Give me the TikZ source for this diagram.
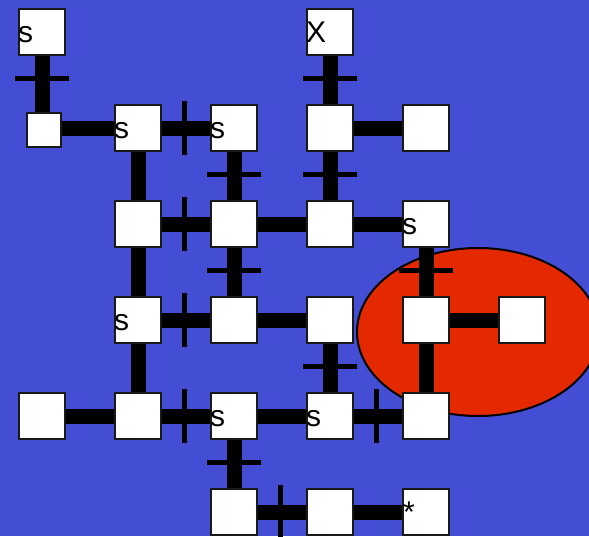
\documentclass[tikz,border=0pt]{standalone}
\usepackage{fontspec}
\setmainfont{Liberation Sans}
\usetikzlibrary{calc}
\pgfdeclarelayer{back}
\pgfdeclarelayer{bars}
\pgfsetlayers{back,bars,main}
\definecolor{bgblue}{RGB}{67,78,213}
\definecolor{blobred}{RGB}{228,40,0}
\tikzset{
  box/.style={draw=black!90, line width=2pt, fill=white, minimum size=46pt, inner sep=0pt, outer sep=0pt},
  smallbox/.style={box, minimum size=34pt},
  bar/.style={line width=15pt, black},
  xbar/.style={line width=5pt, black},
  lbl/.style={anchor=base west, inner sep=0pt, outer sep=0pt, font=\fontsize{30}{36}\selectfont}
}
\newcommand{\Hc}[2]{\draw[bar] (#1.center) -- (#2.center);}
\newcommand{\HcX}[2]{\draw[bar] (#1.center) -- (#2.center);
  \draw[xbar] ($(#1.center)!0.5!(#2.center)+(-2,-27)$) -- ++(0,54);}
\newcommand{\VcX}[2]{\draw[bar] (#1.center) -- (#2.center);
  \draw[xbar] ($(#1.center)!0.5!(#2.center)+(-27,-2)$) -- ++(54,0);}
\begin{document}
\begin{tikzpicture}[x=1pt, y=-1pt]
\useasboundingbox (0,0) rectangle (589,536);
\clip (0,0) rectangle (589,536);
\begin{pgfonlayer}{back}
  \fill[bgblue] (0,0) rectangle (589,536);
  \draw[blobred, fill=blobred] (478,332) ellipse [x radius=121, y radius=84];
  \draw[black, line width=2pt] (478,332) ellipse [x radius=121, y radius=84];
\end{pgfonlayer}
% row 0
\node[box] (n00) at (42,32) {};
\node[box] (n30) at (330,32) {};
% row 1
\node[smallbox] (n01) at (44,130) {};
\node[box] (n11) at (138,128) {};
\node[box] (n21) at (234,128) {};
\node[box] (n31) at (330,128) {};
\node[box] (n41) at (426,128) {};
% row 2
\node[box] (n12) at (138,224) {};
\node[box] (n22) at (234,224) {};
\node[box] (n32) at (330,224) {};
\node[box] (n42) at (426,224) {};
% row 3
\node[box] (n13) at (138,320) {};
\node[box] (n23) at (234,320) {};
\node[box] (n33) at (330,320) {};
\node[box] (n43) at (426,320) {};
\node[box] (n53) at (522,320) {};
% row 4
\node[box] (n04) at (42,416) {};
\node[box] (n14) at (138,416) {};
\node[box] (n24) at (234,416) {};
\node[box] (n34) at (330,416) {};
\node[box] (n44) at (426,416) {};
% row 5
\node[box] (n25) at (234,512) {};
\node[box] (n35) at (330,512) {};
\node[box] (n45) at (426,512) {};
% labels
\node[lbl] (l00) at ($(n00.west)+(-1,10)$) {s};
\node[lbl] (l30) at ($(n30.west)+(-1,10)$) {X};
\node[lbl] (l11) at ($(n11.west)+(-1,10)$) {s};
\node[lbl] (l21) at ($(n21.west)+(-1,10)$) {s};
\node[lbl] (l42) at ($(n42.west)+(-1,10)$) {s};
\node[lbl] (l13) at ($(n13.west)+(-1,10)$) {s};
\node[lbl] (l24) at ($(n24.west)+(-1,10)$) {s};
\node[lbl] (l34) at ($(n34.west)+(-1,10)$) {s};
\node[lbl] (l45) at ($(n45.west)+(0,10)$) {*};
% connectors
\begin{pgfonlayer}{bars}
  \draw[bar] (n00.center) -- (n00.center |- n01.center);
  \draw[xbar] ($(n00.center)+(-27,46)$) -- ++(54,0);
  \draw[bar] (n01.center |- n11.center) -- (n11.center);
  \HcX{n11}{n21}
  \VcX{n30}{n31}
  \Hc{n31}{n41}
  \Hc{n11}{n12}
  \VcX{n21}{n22}
  \VcX{n31}{n32}
  \HcX{n12}{n22}
  \Hc{n22}{n32}
  \Hc{n32}{n42}
  \Hc{n12}{n13}
  \VcX{n22}{n23}
  \VcX{n42}{n43}
  \HcX{n13}{n23}
  \Hc{n23}{n33}
  \Hc{n43}{n53}
  \Hc{n13}{n14}
  \VcX{n33}{n34}
  \Hc{n43}{n44}
  \Hc{n04}{n14}
  \HcX{n14}{n24}
  \Hc{n24}{n34}
  \HcX{n34}{n44}
  \VcX{n24}{n25}
  \HcX{n25}{n35}
  \Hc{n35}{n45}
\end{pgfonlayer}
\end{tikzpicture}
\end{document}
